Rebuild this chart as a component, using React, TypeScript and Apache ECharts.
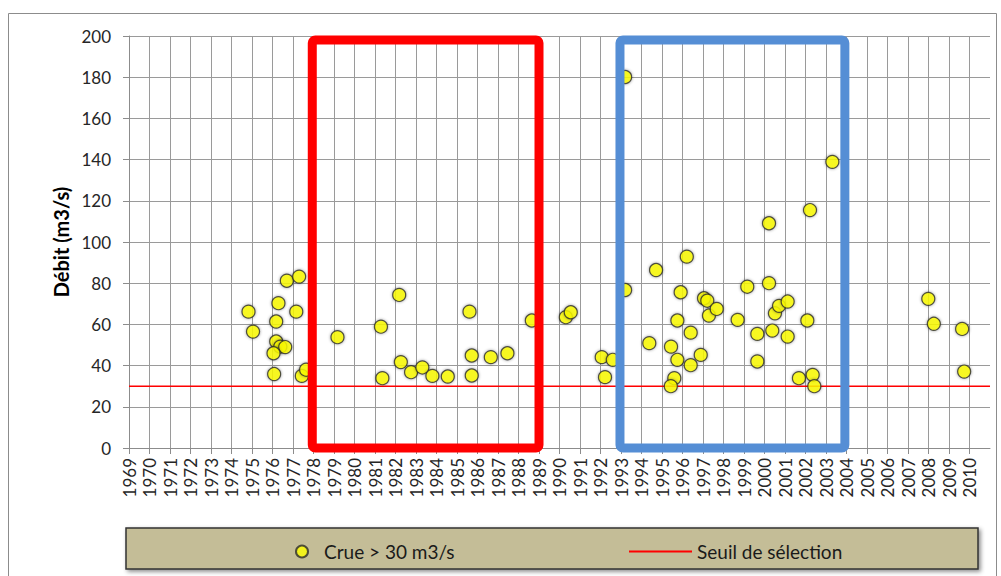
import React, { useEffect, useRef } from 'react';
import * as echarts from 'echarts';

// Flood events above 30 m3/s: date (decimal year) and peak flow
const crueYears = [
  1974.83, 1975.05, 1976.29, 1976.18, 1976.7, 1977.3, 1977.16, 1976.18, 1976.38, 1976.62,
  1976.05, 1976.08, 1977.43, 1977.64, 1979.17, 1981.29, 1981.36, 1982.18, 1982.26, 1982.76,
  1983.31, 1983.8, 1984.55, 1985.61, 1985.72, 1985.72, 1986.65, 1987.46, 1988.65, 1990.31,
  1990.55, 1993.2, 1993.2, 1992.06, 1992.6, 1992.22, 1994.38, 1994.71, 1995.44, 1995.75,
  1995.6, 1995.43, 1995.75, 1995.91, 1996.21, 1996.4, 1996.4, 1996.89, 1997.05, 1997.21,
  1997.29, 1997.67, 1998.69, 1999.16, 1999.65, 1999.65, 2000.22, 2000.22, 2000.38, 2000.51,
  2000.71, 2001.13, 2001.13, 2001.68, 2002.09, 2002.22, 2002.35, 2002.43, 2003.31, 2007.99,
  2008.26, 2009.64, 2009.74,
];
const crueFlows = [
  66.2, 56.5, 70.3, 61.4, 81.2, 83.2, 66.2, 51.7, 49.2, 49.0,
  46.0, 35.9, 35.0, 38.0, 53.8, 58.9, 33.9, 74.3, 41.7, 36.8,
  39.1, 35.0, 34.7, 66.2, 44.9, 35.2, 44.1, 46.0, 61.9, 63.5,
  65.9, 180.1, 76.7, 44.1, 42.8, 34.4, 50.9, 86.4, 49.2, 42.8,
  33.9, 30.0, 61.9, 75.6, 92.9, 56.0, 40.2, 45.2, 72.7, 71.5,
  64.3, 67.5, 62.2, 78.3, 55.4, 42.0, 109.1, 80.0, 57.0, 65.4,
  69.0, 71.1, 54.1, 33.9, 61.9, 115.5, 35.5, 30.0, 138.9, 72.4,
  60.3, 57.8, 37.1,
];

// Selection threshold
const seuilDebit = 30;

// Axis range (years on x, flow on y)
const firstYear = 1969;
const lastLabelYear = 2010;
const axisEndYear = 2011;
const flowMax = 200;
const flowStep = 20;

// Highlighted periods
const periodStart = [1977.94, 1992.95];
const periodEnd = [1989.0, 2003.92];
const periodLow = [0, 0];
const periodHigh = [198, 198];
const periodColors = ['#ff0000', '#558ed5'];

const FONT = 'Lato, "Noto Sans", sans-serif';

export default function App() {
  const ref = useRef<HTMLDivElement>(null);

  useEffect(() => {
    if (!ref.current) return;
    const chart = echarts.init(ref.current, null, { renderer: 'svg' });

    const crueData = crueYears.map((y, i) => [y, crueFlows[i]]);
    const periodData = periodStart.map((s, i) => [s, periodEnd[i], periodLow[i], periodHigh[i]]);

    chart.setOption({
      animation: false,
      backgroundColor: '#ffffff',
      textStyle: { fontFamily: FONT },
      grid: { left: 129, right: 11, top: 36, bottom: 128, containLabel: false },
      graphic: [
        {
          type: 'rect',
          shape: { x: 8.5, y: 13.5, width: 988, height: 640 },
          style: { fill: 'none', stroke: '#8c8c8c', lineWidth: 1 },
          silent: true,
        },
        {
          type: 'rect',
          shape: { x: 126, y: 528, width: 852, height: 41 },
          style: {
            fill: '#c4bd97',
            stroke: '#333333',
            lineWidth: 1.5,
            shadowBlur: 4,
            shadowOffsetX: 2,
            shadowOffsetY: 2,
            shadowColor: 'rgba(0,0,0,0.45)',
          },
          silent: true,
        },
      ],
      legend: [
        {
          data: [{ name: 'Crue > 30 m3/s', icon: 'circle' }],
          left: 290,
          top: 537,
          itemWidth: 34,
          itemHeight: 12,
          textStyle: { fontSize: 19, color: '#1a1a1a', fontFamily: FONT },
          selectedMode: false,
        },
        {
          data: [{ name: 'Seuil de sélection', icon: 'rect' }],
          left: 624,
          top: 537,
          itemWidth: 63,
          itemHeight: 2,
          symbolKeepAspect: false,
          itemStyle: { color: '#ff0000' },
          textStyle: { fontSize: 19, color: '#1a1a1a', fontFamily: FONT },
          selectedMode: false,
        },
      ],
      xAxis: {
        type: 'value',
        min: firstYear,
        max: axisEndYear,
        interval: 1,
        axisLine: { show: true, onZero: false, lineStyle: { color: '#8c8c8c', width: 1 } },
        axisTick: { show: true, length: 6, lineStyle: { color: '#8c8c8c' } },
        axisLabel: {
          rotate: 90,
          margin: 10,
          fontSize: 17,
          color: '#262626',
          fontFamily: FONT,
          showMaxLabel: false,
          formatter: (v: number) => (v <= lastLabelYear ? String(v) : ''),
        },
        splitLine: { show: true, showMaxLine: false, lineStyle: { color: '#9a9a9a', width: 1 } },
      },
      yAxis: {
        type: 'value',
        min: 0,
        max: flowMax,
        interval: flowStep,
        name: 'Débit (m3/s)',
        nameLocation: 'middle',
        nameGap: 58,
        nameTextStyle: { fontWeight: 'bold', fontSize: 20, color: '#000000', fontFamily: FONT },
        axisLine: { show: true, lineStyle: { color: '#8c8c8c', width: 1 } },
        axisTick: { show: true, length: 6, lineStyle: { color: '#8c8c8c' } },
        axisLabel: { fontSize: 17, margin: 18, color: '#262626', fontFamily: FONT },
        splitLine: { show: true, lineStyle: { color: '#9a9a9a', width: 1 } },
      },
      series: [
        {
          name: 'Seuil de sélection',
          type: 'line',
          data: [[firstYear, seuilDebit], [axisEndYear, seuilDebit]],
          symbol: 'none',
          showSymbol: false,
          lineStyle: { color: '#ff0000', width: 1.5 },
          itemStyle: { color: '#ff0000' },
          z: 2,
          silent: true,
        },
        {
          name: 'Crue > 30 m3/s',
          type: 'scatter',
          data: crueData,
          symbol: 'circle',
          symbolSize: 13,
          itemStyle: {
            color: '#ffff00',
            borderColor: '#2b2b2b',
            borderWidth: 1.2,
            shadowBlur: 3,
            shadowColor: 'rgba(0,0,0,0.45)',
          },
          z: 3,
        },
        {
          name: 'périodes',
          type: 'custom',
          data: periodData,
          encode: { x: [0, 1], y: [2, 3] },
          silent: true,
          z: 5,
          renderItem: (params: any, api: any) => {
            const topLeft = api.coord([api.value(0), api.value(3)]);
            const bottomRight = api.coord([api.value(1), api.value(2)]);
            return {
              type: 'rect',
              shape: {
                x: topLeft[0],
                y: topLeft[1],
                width: bottomRight[0] - topLeft[0],
                height: bottomRight[1] - topLeft[1],
                r: 3,
              },
              style: {
                fill: 'none',
                stroke: periodColors[params.dataIndex],
                lineWidth: 9,
                lineJoin: 'round',
              },
            };
          },
        },
      ],
    });

    return () => chart.dispose();
  }, []);

  return (
    <div
      ref={ref}
      style={{ position: 'fixed', left: 0, top: 0, width: 1001, height: 576, background: '#ffffff' }}
    />
  );
}
